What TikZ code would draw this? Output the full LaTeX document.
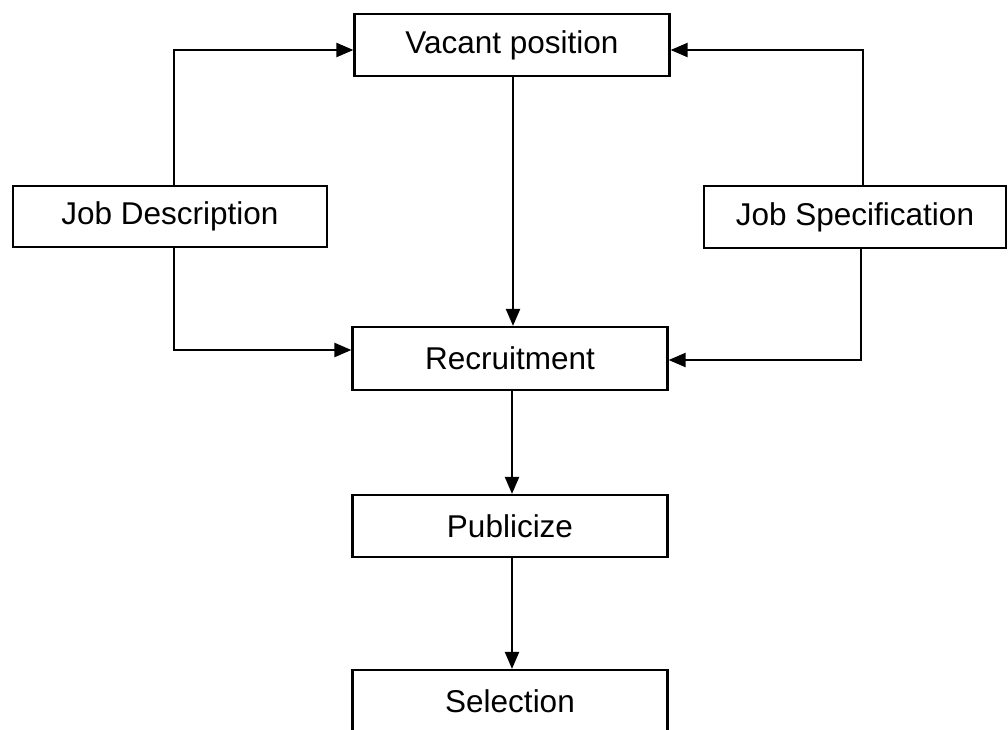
\documentclass[tikz,border=0pt]{standalone}
\usepackage{fontspec}
\setmainfont{Liberation Sans}
\usetikzlibrary{arrows.meta}
\begin{document}
\begin{tikzpicture}[x=1pt,y=-1pt,
  box/.style={draw=black,line width=2.2pt,fill=white,minimum width=315pt,minimum height=62pt,inner sep=0pt,font=\fontsize{31.5}{36}\selectfont},
  arr/.style={line width=2.2pt,-{Triangle[length=17pt,width=14pt]}}]
\useasboundingbox (0,0) rectangle (1008,729);
\clip (0,0) rectangle (1008,729);
\fill[white] (0,0) rectangle (1008,729);
\node[box] (vac) at (512,45) {Vacant position};
\node[box,minimum width=314pt,minimum height=61pt] (jd) at (170,216.5) {Job Description};
\node[box,minimum width=302pt] (js) at (855,217) {Job Specification};
\node[box,minimum height=63pt] (rec) at (510,358.5) {Recruitment};
\node[box] (pub) at (510,526) {Publicize};
\node[box] (sel) at (510,701) {Selection};
\draw[arr] ([xshift=4pt]jd.north) |- ([yshift=-5pt]vac.west);
\draw[arr] ([xshift=4pt]jd.south) |- ([yshift=8.5pt]rec.west);
\draw[arr] ([xshift=8pt]js.north) |- ([yshift=-5pt]vac.east);
\draw[arr] ([xshift=6pt]js.south) |- ([yshift=-1.5pt]rec.east);
\draw[arr] ([xshift=1pt]vac.south) -- ([xshift=3pt]rec.north);
\draw[arr] ([xshift=2pt]rec.south) -- ([xshift=2pt]pub.north);
\draw[arr] ([xshift=2pt]pub.south) -- ([xshift=2pt]sel.north);
\end{tikzpicture}
\end{document}
